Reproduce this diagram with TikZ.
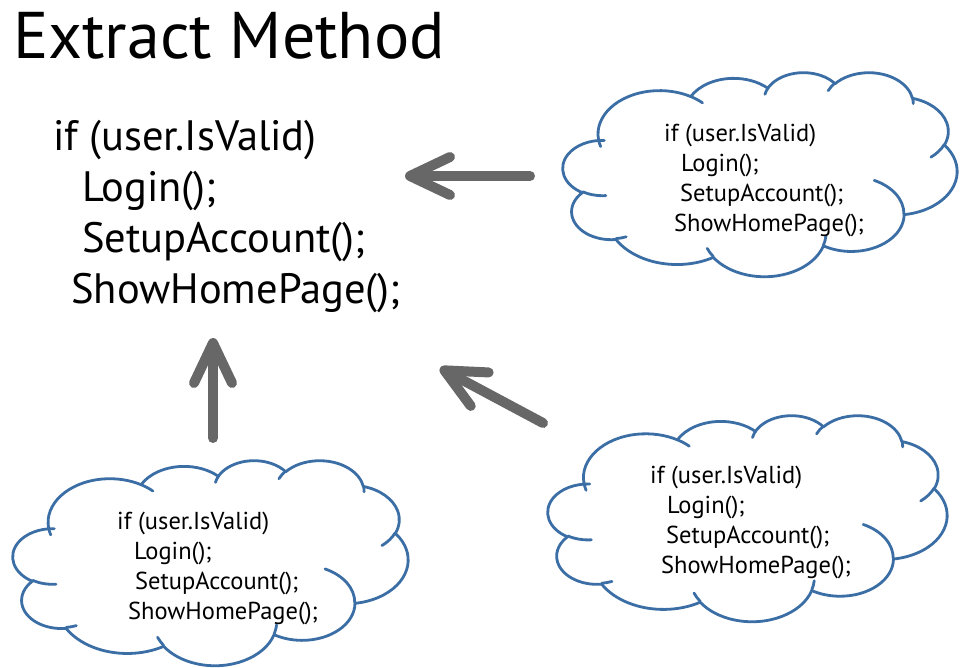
\documentclass[tikz,border=0pt]{standalone}
\usepackage{fontspec}
\setmainfont{PT Sans}
\usetikzlibrary{arrows.meta}
\definecolor{cloudblue}{HTML}{3C6EA6}
\definecolor{arrowgray}{HTML}{676767}

% elliptical arc whose angles are measured from the centre (visual angles)
\newcommand\oarc[4]{arc[x radius=#1, y radius=#2,
  start angle={atan2(#1*sin(#3),#2*cos(#3))},
  delta angle={mod(atan2(#1*sin(#3+#4),#2*cos(#3+#4))-atan2(#1*sin(#3),#2*cos(#3))+720,360)}]}

% cloud outline defined in a 432 x 432 box, scaled to the given box
\newcommand\officecloud[5]{% name, left, top, width, height
  \node[inner sep=0pt, minimum width=#4pt, minimum height=#5pt] (#1) at ({#2+#4/2},{#3+#5/2}) {};
  \pgfmathsetmacro\cloudsx{#4/432}%
  \pgfmathsetmacro\cloudsy{#5/432}%
  \begin{scope}[shift={(#2,#3)}, x=\cloudsx pt, y=-\cloudsy pt]
    \draw[cloudline] (39,143.7)
      \oarc{67.53}{91.90}{-190.4875}{123.7805}
      \oarc{53.33}{72.67}{-144.1024}{89.9452}
      \oarc{43.65}{59.45}{-145.8079}{99.7230}
      \oarc{48.57}{65.95}{-130.9861}{117.2417}
      \oarc{53.33}{72.73}{-78.7089}{109.0269}
      \oarc{67.75}{92.20}{-46.2673}{130.2690}
      \oarc{57.85}{78.67}{0.6250}{114.0333}
      \oarc{67.52}{92.15}{22.4516}{115.1726}
      \oarc{77.20}{105.43}{66.2426}{75.7110}
      \oarc{43.60}{59.18}{-274.9421}{146.7356}
      \oarc{43.45}{59.45}{-246.8285}{158.8694};
    % small inward curls where the puffs meet
    \draw[cloudline]
      (46.93,261.77) \oarc{43.45}{59.45}{86.7420}{26.4295}
      (69.28,348.99) \oarc{43.60}{59.18}{73.6105}{11.4475}
      (164.78,390.90) \oarc{67.52}{92.15}{137.6242}{14.0811}
      (288.27,347.51) \oarc{67.52}{92.15}{6.4533}{15.9984}
      (341.29,229.54) \oarc{57.85}{78.67}{-70.2924}{70.9174}
      (417.98,153.54) \oarc{53.33}{72.73}{30.3180}{27.7515}
      (383.24,54.26) \oarc{48.57}{65.95}{-13.7443}{14.8600}
      (290.78,39.52) \oarc{48.57}{65.95}{-149.1815}{18.1896}
      (221.41,47.20) \oarc{43.65}{59.45}{-163.4943}{17.6881}
      (140.00,51.92) \oarc{67.53}{91.90}{-66.7070}{12.3194}
      (41.27,157.89) \oarc{67.53}{91.90}{157.6544}{11.8582};
  \end{scope}}

\begin{document}
\begin{tikzpicture}[x=1pt,y=-1pt,
  cloudline/.style={draw=cloudblue, line width=2.8pt, line cap=round, line join=round},
  bigcode/.style={anchor=west, inner sep=0pt, align=left,
    font=\fontsize{42.5}{51}\selectfont},
  smallcode/.style={anchor=west, inner sep=0pt, align=left,
    font=\fontsize{24.5}{30}\selectfont},
  refactor/.style={draw=arrowgray, line width=10pt, line cap=round,
    -{Straight Barb[length=40pt,width=38pt,round]}}
]
\useasboundingbox (0,0) rectangle (960,667);

% title
\node[anchor=base west, inner sep=0pt, font=\fontsize{66}{66}\selectfont]
  (title) at (13,58) {Extract Method};

% the extracted code
\node[bigcode] (main) at (53,217) {if (user.IsValid)\\
  \hspace*{29pt}Login();\\
  \hspace*{29pt}SetupAccount();\\
  \hspace*{18pt}ShowHomePage();};

% three duplicated copies, each in a cloud
\officecloud{cloudA}{563}{72}{394}{204}
\node[smallcode] (codeA) at (664,180) {if (user.IsValid)\\
  \hspace*{17pt}Login();\\
  \hspace*{16pt}SetupAccount();\\
  \hspace*{10pt}ShowHomePage();};

\officecloud{cloudB}{13}{460}{395}{205}
\node[smallcode] (codeB) at (117,568) {if (user.IsValid)\\
  \hspace*{17pt}Login();\\
  \hspace*{18pt}SetupAccount();\\
  \hspace*{11pt}ShowHomePage();};

\officecloud{cloudC}{548}{415}{399}{206}
\node[smallcode] (codeC) at (650,522) {if (user.IsValid)\\
  \hspace*{17pt}Login();\\
  \hspace*{16pt}SetupAccount();\\
  \hspace*{11pt}ShowHomePage();};

% arrows pointing back to the single method
\coordinate (tailA) at (530,176);
\coordinate (headA) at (405,176);
\coordinate (tailB) at (213,438);
\coordinate (headB) at (213,338);
\coordinate (tailC) at (543,423);
\coordinate (headC) at (440,368);
\draw[refactor] (tailA) -- (headA);
\draw[refactor] (tailB) -- (headB);
\draw[refactor] (tailC) -- (headC);
\end{tikzpicture}
\end{document}
